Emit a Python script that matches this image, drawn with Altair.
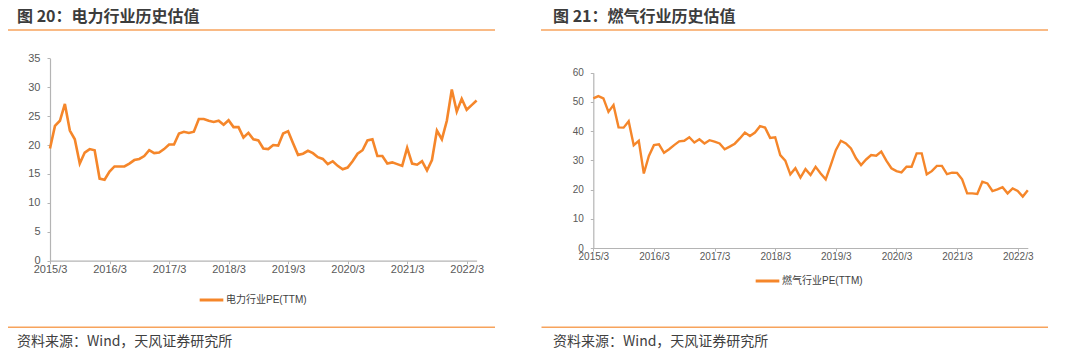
import altair as alt
import pandas as pd

# ---------------- data ----------------
power_pe = [19.4, 23.3, 24.2, 27.1, 22.5, 21.0, 16.8, 18.7, 19.3, 19.1, 14.2, 14.0,
            15.4, 16.3, 16.3, 16.3, 16.8, 17.4, 17.6, 18.1, 19.1, 18.6, 18.7, 19.3,
            20.1, 20.1, 22.0, 22.3, 22.1, 22.3, 24.5, 24.5, 24.2, 24.0, 24.2, 23.5,
            24.3, 23.1, 23.1, 21.3, 22.1, 21.0, 20.8, 19.4, 19.3, 20.0, 19.9, 22.0,
            22.4, 20.3, 18.3, 18.5, 19.0, 18.6, 17.9, 17.6, 16.7, 17.2, 16.4, 15.8,
            16.1, 17.2, 18.5, 19.1, 20.8, 21.0, 18.1, 18.1, 16.8, 17.0, 16.7, 16.4,
            19.5, 16.8, 16.6, 17.2, 15.6, 17.4, 22.5, 21.0, 24.2, 29.6, 25.8, 28.0,
            26.1, 26.9, 27.7]

gas_pe = [51.2, 52.0, 51.2, 46.6, 48.9, 41.3, 41.2, 43.4, 35.2, 36.7, 25.5, 31.5,
          35.2, 35.5, 32.6, 33.8, 35.2, 36.5, 36.7, 37.9, 36.1, 37.2, 35.8, 36.9,
          36.4, 35.8, 33.8, 34.7, 35.7, 37.5, 39.5, 38.3, 39.5, 41.7, 41.2, 37.7,
          37.9, 31.8, 29.9, 25.2, 27.3, 24.1, 27.0, 25.0, 27.8, 25.5, 23.5, 28.4,
          33.5, 36.7, 35.8, 34.1, 30.7, 28.4, 30.3, 31.8, 31.6, 33.0, 29.9, 27.3,
          26.3, 25.9, 27.8, 27.8, 32.4, 32.4, 25.2, 26.3, 28.1, 28.1, 25.3, 25.8,
          25.7, 23.5, 18.7, 18.7, 18.5, 22.7, 22.1, 19.5, 20.1, 20.8, 18.7, 20.4,
          19.5, 17.6, 19.8]

tick_labels = ["2015/3", "2016/3", "2017/3", "2018/3", "2019/3", "2020/3", "2021/3", "2022/3"]
power_yticks = [0, 5, 10, 15, 20, 25, 30, 35]
gas_yticks = [0, 10, 20, 30, 40, 50, 60]

title_left = "图 20：电力行业历史估值"
title_right = "图 21：燃气行业历史估值"
legend_left = "电力行业PE(TTM)"
legend_right = "燃气行业PE(TTM)"
source_text = "资料来源：Wind，天风证券研究所"

months = []
y, m = 2015, 3
for _ in range(len(power_pe)):
    months.append(f"{y}/{m}")
    m += 1
    if m > 12:
        m = 1
        y += 1

df_power = pd.DataFrame({"idx": list(range(len(power_pe))), "month": months,
                         "pe": power_pe, "name": legend_left})
df_gas = pd.DataFrame({"idx": list(range(len(gas_pe))), "month": months,
                       "pe": gas_pe, "name": legend_right})

# ---------------- styles ----------------
LINE = "#F5862A"
RULE = "#F7A35C"
AXIS = "#B4B4B4"
LAB = "#595959"
AXFONT = "Liberation Sans"
CJK = "Noto Sans CJK SC"

label_expr = "[" + ",".join(f"'{t}'" for t in tick_labels) + "][round(datum.value/12)]"
tick_idx = [12 * i for i in range(len(tick_labels))]


def axis_x(offset, fs):
    return alt.Axis(orient="bottom", offset=offset, values=tick_idx, labelExpr=label_expr,
                    title=None, grid=False, domainColor=AXIS, tickColor=AXIS, tickSize=3,
                    labelColor=LAB, labelFont=AXFONT, labelFontSize=fs, labelPadding=0,
                    labelFlush=False, labelOverlap=False, domainWidth=1.2)


def axis_y(offset, values, fs):
    return alt.Axis(orient="left", offset=offset, values=values, title=None, grid=False,
                    domainColor=AXIS, tickColor=AXIS, tickSize=3, labelColor=LAB,
                    labelFont=AXFONT, labelFontSize=fs, labelPadding=7, labelFlush=False,
                    labelOverlap=False, domainWidth=1.2)


def legend(x, y):
    return alt.Legend(orient="none", legendX=x, legendY=y, title=None, symbolType="stroke",
                      symbolSize=560, symbolStrokeWidth=3, symbolStrokeColor=LINE,
                      labelFont=AXFONT + ", " + CJK, labelFontSize=10, labelColor="#404040",
                      labelOffset=1, padding=0)


line_power = alt.Chart(df_power).mark_line(strokeWidth=2.6, color=LINE).encode(
    x=alt.X("idx:Q", scale=alt.Scale(domain=[0, 86], range=[42, 468.6], nice=False, zero=False),
            axis=axis_x(-89.3, 11)),
    y=alt.Y("pe:Q", scale=alt.Scale(domain=[0, 35], range=[252.7, 50.3], nice=False),
            axis=axis_y(-42, power_yticks, 11)),
    color=alt.Color("name:N", scale=alt.Scale(range=[LINE]), legend=legend(190, 278.5)),
)

line_gas = alt.Chart(df_gas).mark_line(strokeWidth=2.4, color=LINE).encode(
    x=alt.X("idx:Q", scale=alt.Scale(domain=[0, 86], range=[585.3, 1019.8], nice=False, zero=False),
            axis=axis_x(-102, 10)),
    y=alt.Y("pe:Q", scale=alt.Scale(domain=[0, 60], range=[240, 64.7], nice=False),
            axis=axis_y(-585.3, gas_yticks, 10)),
    color=alt.Color("name:N", scale=alt.Scale(range=[LINE]), legend=legend(746, 259.5)),
)

one = pd.DataFrame({"a": [0]})


def text_layer(txt, x, y, size, weight, color):
    return alt.Chart(pd.DataFrame({"t": [txt]})).mark_text(
        align="left", baseline="middle", font=CJK, fontSize=size, fontWeight=weight, color=color
    ).encode(x=alt.value(x), y=alt.value(y), text="t:N")


def rule_layer(x1, x2, y):
    return alt.Chart(one).mark_rule(color=RULE, strokeWidth=1.6).encode(
        x=alt.value(x1), x2=alt.value(x2), y=alt.value(y))


chart = alt.layer(
    line_power,
    line_gas,
    text_layer(title_left, 9, 8.5, 16, "bold", "#3C3C3C"),
    text_layer(title_right, 545, 8.5, 16, "bold", "#3C3C3C"),
    rule_layer(0, 487, 22),
    rule_layer(533, 1040, 22),
    rule_layer(0, 487, 319.3),
    rule_layer(533.5, 1040, 319.3),
    text_layer(source_text, 9, 334, 14, "normal", "#404040"),
    text_layer(source_text, 545, 334, 14, "normal", "#404040"),
).resolve_scale(
    x="independent", y="independent", color="independent"
).resolve_axis(
    x="independent", y="independent"
).resolve_legend(
    color="independent"
).properties(
    width=1064, height=342, padding=0,
    autosize=alt.AutoSizeParams(type="none"),
).configure_view(stroke=None)

chart.save("out.html", embed_options={"renderer": "svg", "actions": False})
